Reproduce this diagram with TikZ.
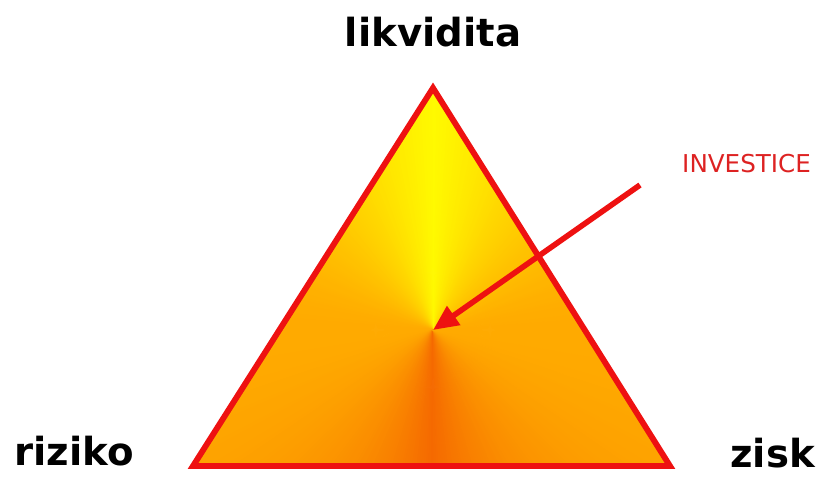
\documentclass[tikz,border=0pt]{standalone}
\usepackage{fontspec}
\setmainfont{DejaVu Sans}
\usetikzlibrary{arrows.meta,calc}
\definecolor{TriRed}{HTML}{EE1111}
\definecolor{LblRed}{HTML}{DD2222}
\definecolor{TriYellow}{RGB}{255,250,0}
\definecolor{TriOrange}{RGB}{255,170,0}
\definecolor{TriDeep}{RGB}{245,105,0}

\begin{document}
\begin{tikzpicture}[
    x=0.03cm,y=0.03cm,
    corner/.style={font=\fontsize{33}{40}\selectfont\bfseries,inner sep=0pt},
    tag/.style={font=\fontsize{21}{25}\selectfont,text=LblRed,inner sep=0pt},
    edge/.style={draw=TriRed,line width=5pt},
    arr/.style={-{Triangle[length=0.76cm,width=0.66cm]},line width=4.8pt,TriRed}
  ]
    \useasboundingbox (0,0) rectangle (820,478);
    \coordinate (top) at (433,390);
    \coordinate (left) at (193,12);
    \coordinate (right) at (670,12);
    \coordinate (mid) at (433,148);
    \coordinate (from) at (640,293);
    % fan of wedges around the middle point
    \begin{scope}
      \clip (top) -- (left) -- (right) -- cycle;
      \foreach \a in {0,...,359}{
        \pgfmathsetmacro{\d}{abs(mod(\a+450,360)-180)}
        \pgfmathsetmacro{\u}{max(0,1-\d/90)}
        \pgfmathsetmacro{\w}{max(0,(\d-90)/90)}
        \pgfmathtruncatemacro{\p}{100*\u*sqrt(\u)}
        \pgfmathtruncatemacro{\q}{100*\w*\w}
        \colorlet{wedgeA}{TriYellow!\p!TriOrange}
        \colorlet{wedgeB}{TriDeep!\q!wedgeA}
        \filldraw[wedgeB,line width=0.6pt,line join=round] (mid) -- ($(mid)+(\a-0.7:600)$) -- ($(mid)+(\a+0.7:600)$) -- cycle;
      }
    \end{scope}
    \draw[edge] (top) -- (left) -- (right) -- cycle;
    \node[corner,anchor=base] (liq) at (433,431) {likvidita};
    \node[corner,anchor=base west] (risk) at (14,13) {riziko};
    \node[corner,anchor=base west] (gain) at (730,11) {zisk};
    \node[tag,anchor=base west] (inv) at (682,305) {INVESTICE};
    \draw[arr] (from) -- (mid);
  \end{tikzpicture}
\end{document}
